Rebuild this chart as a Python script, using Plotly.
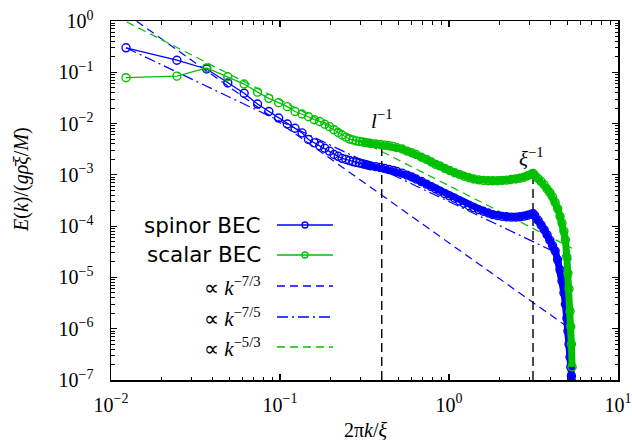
import plotly.graph_objects as go

# ---- data ----
K = [0.01227, 0.02454, 0.03682, 0.04909, 0.06136, 0.07363, 0.0859, 0.09817, 0.1104, 0.1227,
     0.135, 0.1473, 0.1595, 0.1718, 0.1841, 0.1963, 0.2086, 0.2209, 0.2332, 0.2454,
     0.2577, 0.2700, 0.2823, 0.2945, 0.3068, 0.3191, 0.3313, 0.3436, 0.3682, 0.3927,
     0.4172, 0.4418, 0.4663, 0.4909, 0.5277, 0.5645, 0.6013, 0.6381, 0.6872, 0.7363,
     0.7854, 0.8345, 0.8836, 0.9449, 1.0063, 1.0799, 1.1535, 1.2272, 1.3131, 1.3990,
     1.4972, 1.5953, 1.7058, 1.8162, 1.9389, 2.0617, 2.1967, 2.3316, 2.4789, 2.6262,
     2.7734, 2.9207, 3.0680, 3.1416, 3.2152, 3.3625, 3.5097, 3.6570, 3.8043, 3.9515,
     4.0988, 4.2460, 4.3933, 4.5406, 4.6633, 4.7860, 4.8842, 4.9823, 5.0560, 5.1296,
     5.2032, 5.2523, 5.3014, 5.3505]

E_spinor = [0.30, 0.172, 0.116, 0.062, 0.039, 0.024, 0.0172, 0.0128, 0.0098, 0.0081,
            0.0066, 0.0049, 0.0042, 0.0037, 0.0033, 0.0029, 0.0025, 0.0023, 0.0021, 0.0020,
            0.0019, 0.0018, 0.00175, 0.0017, 0.00165, 0.0016, 0.00155, 0.0015, 0.00145, 0.0014,
            0.00133, 0.00127, 0.00122, 0.00116, 0.00108, 0.00099, 0.00091, 0.00083, 0.00074, 0.00066,
            0.00059, 0.00053, 0.00048, 0.00043, 0.00039, 0.00035, 0.00031, 0.00028, 0.00025, 0.00023,
            0.00021, 0.000195, 0.00018, 0.000168, 0.00016, 0.000155, 0.000152, 0.00015, 0.00015, 0.000152,
            0.000157, 0.000163, 0.00017, 0.000175, 0.00016, 0.00013, 0.000105, 0.000085, 0.000068, 0.000053,
            0.000042, 0.000033, 0.000022, 0.000014, 0.0000085, 0.000005, 0.000003, 0.0000016, 0.0000009, 0.0000005,
            0.00000028, 0.00000018, 0.00000012, 0.00000009]

E_scalar = [0.0785, 0.084, 0.122, 0.082, 0.059, 0.041, 0.031, 0.0256, 0.0214, 0.0172,
            0.0154, 0.0136, 0.0119, 0.0110, 0.0097, 0.0087, 0.0076, 0.0067, 0.0060, 0.0054,
            0.0050, 0.0048, 0.0046, 0.0045, 0.0044, 0.0043, 0.0042, 0.0041, 0.0040, 0.0039,
            0.0038, 0.0037, 0.0036, 0.0034, 0.0032, 0.0029, 0.0027, 0.0025, 0.0022, 0.0020,
            0.00178, 0.0016, 0.0015, 0.00134, 0.00122, 0.0011, 0.00102, 0.00094, 0.00088, 0.00083,
            0.0008, 0.00078, 0.00077, 0.00077, 0.00077, 0.00078, 0.00079, 0.00081, 0.00083, 0.00086,
            0.0009, 0.00096, 0.00103, 0.00107, 0.00098, 0.00085, 0.00074, 0.00064, 0.00053, 0.00045,
            0.00037, 0.00029, 0.00022, 0.000155, 0.000115, 0.00008, 0.000054, 0.000025, 0.000012, 0.000006,
            0.0000022, 0.0000011, 0.0000005, 0.00000018]

# power-law guide lines: end points
FIT_73_K = [0.01227, 4.99]
FIT_73_E = [1.39, 1.1e-6]
FIT_75_K = [0.01227, 5.3]
FIT_75_E = [0.30, 2.2e-5]
FIT_53_K = [0.0124, 5.35]
FIT_53_E = [0.956, 3.7e-5]

# characteristic scales
L_INV = 0.4
XI_INV = 3.1416
VLINE_TOP = [0.0035, 0.00107]

X_TICKS = [0.01, 0.1, 1, 10]
X_TICKTEXT = ["10<sup>−2</sup>", "10<sup>−1</sup>", "10<sup>0</sup>", "10<sup>1</sup>"]
Y_TICKS = [1e-7, 1e-6, 1e-5, 1e-4, 1e-3, 1e-2, 1e-1, 1]
Y_TICKTEXT = ["10<sup>−7</sup>", "10<sup>−6</sup>", "10<sup>−5</sup>", "10<sup>−4</sup>",
              "10<sup>−3</sup>", "10<sup>−2</sup>", "10<sup>−1</sup>", "10<sup>0</sup>"]

LEGEND_LABELS = ["spinor BEC", "scalar BEC", "∝ <i>k</i><sup>−7/3</sup>",
                 "∝ <i>k</i><sup>−7/5</sup>", "∝ <i>k</i><sup>−5/3</sup>"]

BLUE = "#0000ff"
GREEN = "#00c000"
SERIF = "Liberation Serif"
SANS = "DejaVu Sans"

fig = go.Figure()

# power-law guides
fig.add_trace(go.Scatter(x=FIT_73_K, y=FIT_73_E, mode="lines",
                         line=dict(color=BLUE, width=1.2, dash="8px,5px"), showlegend=False))
fig.add_trace(go.Scatter(x=FIT_75_K, y=FIT_75_E, mode="lines",
                         line=dict(color=BLUE, width=1.2, dash="11px,4px,2px,4px"), showlegend=False))
fig.add_trace(go.Scatter(x=FIT_53_K, y=FIT_53_E, mode="lines",
                         line=dict(color=GREEN, width=1.2, dash="8px,5px"), showlegend=False))

# vertical markers of scales
for xv, top in zip([L_INV, XI_INV], VLINE_TOP):
    fig.add_trace(go.Scatter(x=[xv, xv], y=[1e-7, top], mode="lines",
                             line=dict(color="black", width=1.4, dash="9px,5px"), showlegend=False))

# data: dense part drawn as a band, plus markers
start = 24
for E, col in [(E_spinor, BLUE), (E_scalar, GREEN)]:
    fig.add_trace(go.Scatter(x=K[start:], y=E[start:], mode="lines",
                             line=dict(color=col, width=7), showlegend=False))
    fig.add_trace(go.Scatter(x=K, y=E, mode="lines+markers",
                             line=dict(color=col, width=1.3),
                             marker=dict(symbol="circle-open", size=8, color=col, line=dict(width=1.4)),
                             showlegend=False))

# ---- manual legend (text on the left, sample on the right) ----
px_l, px_r, pt, pb = 111, 618, 21, 380
def px2x(p):
    return (p - px_l) / (px_r - px_l)
def py2y(p):
    return (pb - p) / (pb - pt)

rows = [225, 255, 286, 317, 347]
styles = [(BLUE, "solid", True), (GREEN, "solid", True), (BLUE, "dash", False),
          (BLUE, "dashdot", False), (GREEN, "dash", False)]
dmap = {"solid": "solid", "dash": "8px,5px", "dashdot": "11px,4px,2px,4px"}
for lab, r, (col, dsh, mk) in zip(LEGEND_LABELS, rows, styles):
    is_math = lab.startswith("∝")
    fig.add_annotation(x=px2x(263), y=py2y(r), xref="paper", yref="paper", text=lab,
                       showarrow=False, xanchor="right", yanchor="middle",
                       font=dict(family=SERIF if is_math else SANS,
                                 size=21 if is_math else 21.5, color="black"))
    fig.add_shape(type="line", xref="paper", yref="paper",
                  x0=px2x(277), x1=px2x(333), y0=py2y(r), y1=py2y(r),
                  line=dict(color=col, width=1.3, dash=dmap[dsh]))
    if mk:
        fig.add_shape(type="circle", xref="paper", yref="paper", xsizemode="pixel", ysizemode="pixel",
                      xanchor=px2x(305), yanchor=py2y(r), x0=-3, x1=3, y0=-3, y1=3,
                      line=dict(color=col, width=1.3), fillcolor="rgba(0,0,0,0)")

# scale labels
fig.add_annotation(x=-0.398, y=-1.93, text="<i>l</i><sup>−1</sup>", showarrow=False,
                   font=dict(family=SERIF, size=21, color="black"), xanchor="center", yanchor="middle")
fig.add_annotation(x=0.49, y=-2.67, text="<i>ξ</i><sup>−1</sup>", showarrow=False,
                   font=dict(family=SERIF, size=21, color="black"), xanchor="center", yanchor="middle")

# axis titles
fig.add_annotation(x=px2x(366), y=py2y(430), xref="paper", yref="paper",
                   text="2π<i>k</i>/<i>ξ</i>", showarrow=False,
                   font=dict(family=SERIF, size=20, color="black"), xanchor="center", yanchor="middle")
fig.add_annotation(x=px2x(21), y=py2y(180), xref="paper", yref="paper",
                   text="<i>E</i>(<i>k</i>)/(<i>gρ̄ξ</i>/<i>M</i>)", showarrow=False, textangle=-90,
                   font=dict(family=SERIF, size=20, color="black"), xanchor="center", yanchor="middle")

minor_x = [m * 10 ** e for e in range(-2, 1) for m in range(2, 10)]
minor_y = [m * 10 ** e for e in range(-7, 0) for m in range(2, 10)]

axis_common = dict(type="log", showgrid=False, zeroline=False, showline=True, linecolor="black",
                   linewidth=1.5, mirror="ticks", ticks="inside", ticklen=6, tickwidth=1.2,
                   tickcolor="black", tickmode="array", automargin=False,
                   tickfont=dict(family=SERIF, size=20, color="black"))

fig.update_xaxes(**axis_common, range=[-2, 1], tickvals=X_TICKS, ticktext=X_TICKTEXT,
                 minor=dict(tickvals=minor_x, ticks="inside", ticklen=3.5, tickwidth=1, tickcolor="black",
                            showgrid=False),
                 ticklabelstandoff=6)
fig.update_yaxes(**axis_common, range=[-7, 0], tickvals=Y_TICKS, ticktext=Y_TICKTEXT,
                 minor=dict(tickvals=minor_y, ticks="inside", ticklen=3.5, tickwidth=1, tickcolor="black",
                            showgrid=False),
                 ticklabelstandoff=12)

fig.update_layout(width=632, height=445, autosize=False,
                  margin=dict(l=111, r=14, t=21, b=65, autoexpand=False),
                  plot_bgcolor="white", paper_bgcolor="white", showlegend=False)

fig.write_html("out.html", config={"displayModeBar": False, "staticPlot": True},
               post_script="document.body.style.margin='0';document.body.style.overflow='hidden';")
